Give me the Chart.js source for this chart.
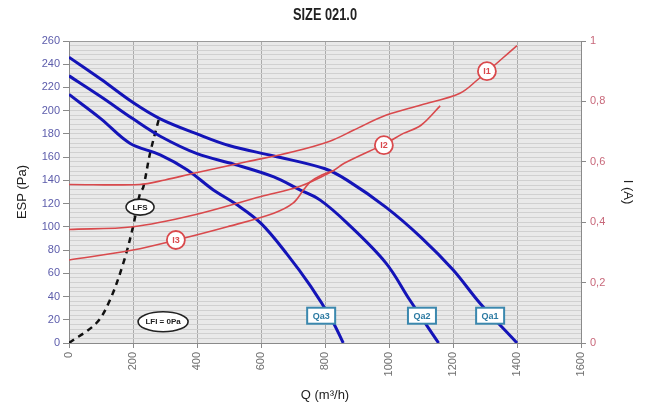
<!DOCTYPE html>
<html>
<head>
<meta charset="utf-8">
<script src="https://cdn.jsdelivr.net/npm/chart.js@4.4.1/dist/chart.umd.min.js"></script>
<style>
html,body{margin:0;padding:0;background:#fff;}
#wrap{width:648px;height:403px;position:relative;}
</style>
</head>
<body>
<div id="wrap"><canvas id="c" width="648" height="403"></canvas></div>
<script>
// ---- data ----
const titleText = "SIZE 021.0";
const xTicks = [0,200,400,600,800,1000,1200,1400,1600];
const leftTicks = [0,20,40,60,80,100,120,140,160,180,200,220,240,260];
const rightTicks = [0,0.2,0.4,0.6,0.8,1];
const rightTickLabels = ["0","0,2","0,4","0,6","0,8","1"];

// airflow curves (Q m3/h, ESP Pa)
const qa1Q = [0,100,200,285,400,500,640,800,870,990,1100,1200,1285,1400];
const qa1P = [246,227,207,193,180,170,161,150,140,117,91,63,34,0];
const qa2Q = [0,100,200,285,400,515,640,720,785,870,990,1065,1155];
const qa2P = [230,212,193,178,163,154,143,132,123,103,69,37,0];
const qa3Q = [0,100,190,285,370,450,525,600,680,755,821,857];
const qa3P = [214,193,172,162,149,132,119,103,77,49,20,0];

// current curves (Q m3/h, I A)
const i1Q = [0,220,300,390,555,700,815,890,990,1100,1220,1275,1400];
const i1A = [0.525,0.525,0.54,0.562,0.6,0.633,0.668,0.705,0.754,0.788,0.826,0.87,0.985];
const i2Q = [0,200,390,600,720,820,860,990,1045,1100,1160];
const i2A = [0.376,0.385,0.424,0.485,0.518,0.567,0.595,0.661,0.694,0.721,0.785];
const i3Q = [0,200,335,495,640,700,735,755,790,830];
const i3A = [0.275,0.308,0.341,0.385,0.43,0.463,0.51,0.534,0.556,0.572];

// LFS limit (Q m3/h, ESP Pa)
const lfsQ = [0,85,128,170,200,222,232,253,280];
const lfsP = [0,17,37,69,100,129,134,163,192];

// annotation labels: text, Q, value, axis
const noteText = ["I1","I2","I3","LFS","LFI = 0Pa","Qa3","Qa2","Qa1"];
const noteQ    = [1306,984,334,222,294,788,1103,1316];
const noteV    = [0.9,0.655,0.341,117,18.3,23.5,23.5,23.5];
const noteAxis = ["y1","y1","y1","y","y","y","y","y"];
const noteKind = ["circle","circle","circle","ellipse","ellipse","box","box","box"];

function pts(xs, ys){ return xs.map((x,i)=>({x:x,y:ys[i]})); }

const BLUE = "#1414b8";
const RED = "#d9494c";

const bgPlugin = {
  id:"bg",
  beforeDraw(chart){
    const {ctx, chartArea:a} = chart;
    ctx.save();
    ctx.fillStyle = "#e9e9e9";
    ctx.fillRect(a.left, a.top, a.right-a.left, a.bottom-a.top);
    ctx.restore();
  },
  afterDraw(chart){
    const {ctx, chartArea:a} = chart;
    ctx.save();
    ctx.strokeStyle = "#9a9a9a";
    ctx.lineWidth = 1;
    ctx.beginPath();
    ctx.moveTo(a.left, a.top+0.5);
    ctx.lineTo(a.right, a.top+0.5);
    ctx.stroke();
    // title (condensed look)
    ctx.fillStyle = "#222";
    ctx.font = "bold 16px 'Liberation Sans', sans-serif";
    ctx.textAlign = "center";
    ctx.textBaseline = "middle";
    ctx.translate(325, 16);
    ctx.scale(0.8, 1);
    ctx.fillText(titleText, 0, 0);
    ctx.restore();
  }
};

const notePlugin = {
  id:"notes",
  afterDatasetsDraw(chart){
    const ctx = chart.ctx;
    const xs = chart.scales.x;
    ctx.save();
    noteText.forEach((t,i)=>{
      const px = xs.getPixelForValue(noteQ[i]);
      const py = chart.scales[noteAxis[i]].getPixelForValue(noteV[i]);
      const kind = noteKind[i];
      ctx.textAlign = "center";
      ctx.textBaseline = "middle";
      if(kind==="circle"){
        ctx.beginPath();
        ctx.arc(px,py,9,0,Math.PI*2);
        ctx.fillStyle="#fff"; ctx.fill();
        ctx.lineWidth=1.8; ctx.strokeStyle=RED; ctx.stroke();
        ctx.fillStyle=RED;
        ctx.font="bold 9px 'Liberation Sans', sans-serif";
        ctx.fillText(t,px,py+0.5);
      } else if(kind==="ellipse"){
        const rx = t.length>4 ? 25 : 14;
        const ry = t.length>4 ? 10 : 8;
        ctx.beginPath();
        ctx.ellipse(px,py,rx,ry,0,0,Math.PI*2);
        ctx.fillStyle="#fff"; ctx.fill();
        ctx.lineWidth=1.6; ctx.strokeStyle="#222"; ctx.stroke();
        ctx.fillStyle="#222";
        ctx.font="bold 8px 'Liberation Sans', sans-serif";
        ctx.fillText(t,px,py+0.5);
      } else {
        const w=28,h=16;
        ctx.fillStyle="#fff";
        ctx.fillRect(px-w/2,py-h/2,w,h);
        ctx.lineWidth=2; ctx.strokeStyle="#3b88ae";
        ctx.strokeRect(px-w/2,py-h/2,w,h);
        ctx.fillStyle="#2b7aa2";
        ctx.font="bold 9px 'Liberation Sans', sans-serif";
        ctx.fillText(t,px,py+0.5);
      }
    });
    ctx.restore();
  }
};

const blueDs = (label, q, p) => ({label, data:pts(q,p), yAxisID:"y", borderColor:BLUE, borderWidth:3, pointRadius:0, tension:0.35, fill:false});
const redDs = (label, q, a) => ({label, data:pts(q,a), yAxisID:"y1", borderColor:RED, borderWidth:1.6, pointRadius:0, tension:0.35, fill:false});

new Chart(document.getElementById("c"), {
  type:"line",
  data:{
    datasets:[
      redDs("I1", i1Q, i1A),
      redDs("I2", i2Q, i2A),
      redDs("I3", i3Q, i3A),
      blueDs("Qa1", qa1Q, qa1P),
      blueDs("Qa2", qa2Q, qa2P),
      blueDs("Qa3", qa3Q, qa3P),
      {label:"LFS", data:pts(lfsQ,lfsP), yAxisID:"y", borderColor:"#111", borderWidth:2.5, borderDash:[6,5], pointRadius:0, tension:0.35, fill:false}
    ]
  },
  options:{
    responsive:false,
    animation:false,
    layout:{padding:{top:41,left:0,right:0,bottom:0}},
    plugins:{legend:{display:false}, tooltip:{enabled:false}, title:{display:false}},
    scales:{
      x:{
        type:"linear", min:0, max:1600,
        afterBuildTicks(s){ s.ticks = xTicks.map(v=>({value:v})); },
        afterFit(s){ s.height = 60; },
        ticks:{color:"#6f6f6f", font:{family:"'Liberation Sans', sans-serif", size:11}, minRotation:90, maxRotation:90, padding:4, autoSkip:false,
          callback:(v)=> String(v)},
        grid:{color:"#ababab", lineWidth:1, tickLength:5, tickColor:"#8a8a8a"},
        border:{color:"#8a8a8a", width:1},
        title:{display:true, text:"Q (m³/h)", color:"#222", font:{family:"'Liberation Sans', sans-serif", size:13}, padding:{top:9,bottom:0}}
      },
      y:{
        type:"linear", position:"left", min:0, max:260,
        afterBuildTicks(s){ const t=[]; for(let v=0; v<=260; v+=4){ t.push({value:v}); } s.ticks=t; },
        afterFit(s){ s.width = 69; },
        ticks:{color:"#5c5cab", font:{family:"'Liberation Sans', sans-serif", size:11}, padding:3, autoSkip:false,
          callback:(v)=> leftTicks.includes(v) ? String(v) : ""},
        grid:{color:"#d0d0d0", lineWidth:1, tickLength:6,
          tickColor:(c)=> (c.tick && leftTicks.includes(c.tick.value)) ? "#8a8a8a" : "rgba(0,0,0,0)"},
        border:{color:"#8a8a8a", width:1},
        title:{display:true, text:"ESP (Pa)", color:"#222", font:{family:"'Liberation Sans', sans-serif", size:13}, padding:{top:15,bottom:0}}
      },
      y1:{
        type:"linear", position:"right", min:0, max:1,
        afterBuildTicks(s){ s.ticks = rightTicks.map(v=>({value:v})); },
        afterFit(s){ s.width = 67; },
        ticks:{color:"#c8687a", font:{family:"'Liberation Sans', sans-serif", size:11}, padding:4, autoSkip:false,
          callback:(v)=>{ const k = rightTicks.findIndex(r=>Math.abs(r-v)<1e-9); return k>=0 ? rightTickLabels[k] : ""; }},
        grid:{drawOnChartArea:false, tickLength:5, tickColor:"#8a8a8a"},
        border:{color:"#8a8a8a", width:1},
        title:{display:true, text:"I (A)", color:"#222", font:{family:"'Liberation Sans', sans-serif", size:13}, padding:{top:13,bottom:0}}
      }
    }
  },
  plugins:[bgPlugin, notePlugin]
});
</script>
</body>
</html>
